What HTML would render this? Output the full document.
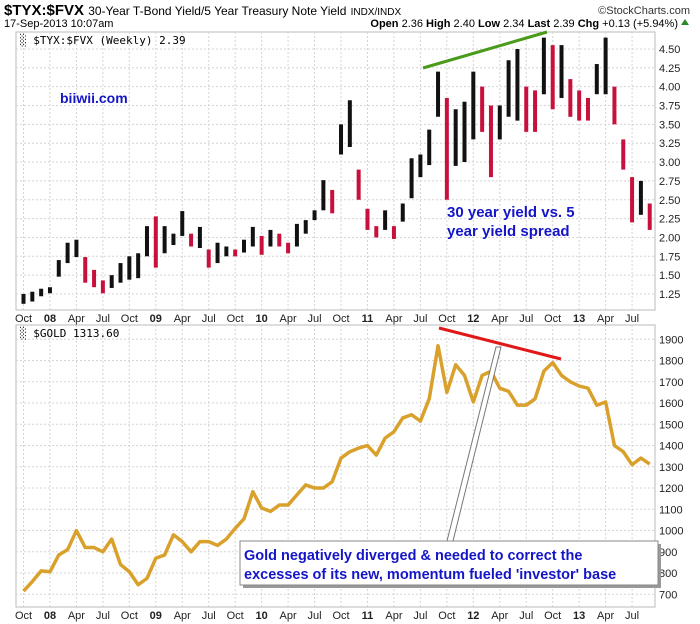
<!DOCTYPE html>
<html><head><meta charset="utf-8"><style>
body{margin:0;background:#fff;width:700px;height:624px;overflow:hidden;font-family:"Liberation Sans",sans-serif}
svg{display:block}
</style></head><body>
<svg id="c" width="700" height="624" xmlns="http://www.w3.org/2000/svg" font-family="Liberation Sans, sans-serif">
<text x="4" y="15" font-size="15" font-weight="bold">$TYX:$FVX <tspan font-size="12" font-weight="normal">30-Year T-Bond Yield/5 Year Treasury Note Yield</tspan> <tspan font-size="10" font-weight="normal">INDX/INDX</tspan></text>
<text x="690" y="14" font-size="11" text-anchor="end" fill="#333">©StockCharts.com</text>
<text x="4" y="27" font-size="11">17-Sep-2013 10:07am</text>
<text x="678" y="27" font-size="11" text-anchor="end"><tspan font-weight="bold">Open</tspan> 2.36 <tspan font-weight="bold">High</tspan> 2.40 <tspan font-weight="bold">Low</tspan> 2.34 <tspan font-weight="bold">Last</tspan> 2.39 <tspan font-weight="bold">Chg</tspan> +0.13 (+5.94%)</text>
<path d="M681 25 l4 -6 l4 6z" fill="#2a8a2a"/>
<g id="g1"></g>
<g id="g2"></g>
</svg>
<script>
const months=["Oct","08","Apr","Jul","Oct","09","Apr","Jul","Oct","10","Apr","Jul","Oct","11","Apr","Jul","Oct","12","Apr","Jul","Oct","13","Apr","Jul"];
const spreadTicks=[1.25,1.5,1.75,2,2.25,2.5,2.75,3,3.25,3.5,3.75,4,4.25,4.5];
const goldTicks=[700,800,900,1000,1100,1200,1300,1400,1500,1600,1700,1800,1900];
const spreadHigh=[1.25,1.28,1.32,1.34,1.70,1.93,1.97,1.74,1.57,1.43,1.50,1.66,1.75,1.79,2.15,2.28,2.15,2.05,2.35,2.05,2.14,1.84,1.93,1.88,1.84,1.97,2.14,2.02,2.10,2.05,1.93,2.18,2.23,2.36,2.76,2.63,3.50,3.82,2.90,2.38,2.15,2.36,2.15,2.45,3.05,3.10,3.43,4.20,3.85,3.70,3.80,4.20,4.00,3.75,3.75,4.35,4.50,4.00,3.95,4.65,4.55,4.55,4.10,3.95,3.85,4.30,4.65,4.00,3.30,2.80,2.75,2.45];
const spreadLow=[1.12,1.15,1.22,1.26,1.48,1.66,1.74,1.40,1.34,1.26,1.33,1.40,1.44,1.46,1.75,1.60,1.79,1.90,2.02,1.88,1.86,1.60,1.66,1.75,1.75,1.80,1.88,1.77,1.88,1.88,1.79,1.88,2.05,2.23,2.36,2.32,3.10,3.20,2.50,2.10,2.00,2.10,1.98,2.21,2.52,2.80,2.96,3.60,2.50,2.95,3.00,3.30,3.40,2.80,3.30,3.60,3.55,3.40,3.40,3.90,3.70,3.85,3.60,3.55,3.55,3.90,3.90,3.50,2.90,2.20,2.30,2.10];
const goldClose=[715,760,810,806,885,910,1000,920,920,900,960,840,806,745,775,870,885,980,948,900,948,948,930,960,1010,1055,1183,1106,1090,1120,1120,1168,1215,1200,1200,1230,1341,1371,1388,1400,1355,1435,1465,1530,1545,1515,1620,1870,1650,1780,1730,1605,1730,1750,1670,1655,1590,1590,1620,1750,1790,1730,1700,1680,1670,1590,1605,1400,1371,1310,1341,1313];
const NS="http://www.w3.org/2000/svg";
function mk(p,t,a){const e=document.createElementNS(NS,t);for(const k in a)e.setAttribute(k,a[k]);p.appendChild(e);return e;}
const X0=16,X1=655;
function xm(m){return 23.5+m*8.82;}
function y1(v){return 294-(v-1.25)*75.4;}
function y2(v){return 594.3-(v-700)*0.2125;}
const g1=document.getElementById('g1'),g2=document.getElementById('g2');
function panel(g,top,bot,ticks,yf,fmt,name){
  const r=mk(g,'rect',{x:X0,y:top,width:X1-X0,height:bot-top,fill:'#fff',stroke:'#bbb'});
  
  
  ticks.forEach(t=>{const y=yf(t);
    const l=mk(g,'line',{x1:X0,x2:X1,y1:y,y2:y,stroke:'#d4d4d4','stroke-dasharray':'2,2'});
    
    
    const tx=mk(g,'text',{x:659,y:y+4,'font-size':11,fill:'#222'});tx.textContent=fmt(t);
    
    });
  months.forEach((m,i)=>{const x=xm(i*3);
    const l=mk(g,'line',{x1:x,x2:x,y1:top,y2:bot,stroke:'#d4d4d4','stroke-dasharray':'2,2'});
    
    
    const tx=mk(g,'text',{x:x,y:bot+12,'font-size':11,'text-anchor':'middle','font-weight':/^\d/.test(m)?'bold':'normal',fill:'#222'});tx.textContent=m;
    
    });
}
panel(g1,32,310,spreadTicks,y1,v=>v.toFixed(2),'spread');
panel(g2,325,607,goldTicks,y2,v=>String(v),'gold');
spreadHigh.forEach((h,i)=>{const lo=spreadLow[i];const mid=(h+lo)/2;const pm=i?(spreadHigh[i-1]+spreadLow[i-1])/2:mid;
  const b=mk(g1,'line',{x1:xm(i),x2:xm(i),y1:y1(h),y2:y1(lo),stroke:mid<pm?'#c8103c':'#111','stroke-width':4});
  
  });
const pts=goldClose.map((v,i)=>xm(i)+','+y2(v)).join(' ');
const gl=mk(g2,'polyline',{points:pts,fill:'none',stroke:'#d9a12b','stroke-width':3.5,'stroke-linejoin':'round'});


function txt(g,x,y,s,attrs,name){const t=mk(g,'text',Object.assign({x:x,y:y},attrs));t.textContent=s;return t;}
txt(g1,20,44,'\u2591 $TYX:$FVX (Weekly) 2.39',{'font-size':11,'font-family':'DejaVu Sans Mono, monospace'},'spread-legend');
txt(g2,20,337,'\u2591 $GOLD 1313.60',{'font-size':11,'font-family':'DejaVu Sans Mono, monospace'},'gold-legend');
txt(g1,60,103,'biiwii.com',{'font-size':14,'font-weight':'bold',fill:'#1515c8'},'biiwii-watermark');
txt(g1,447,217,'30 year yield vs. 5',{'font-size':15,'font-weight':'bold',fill:'#1515c8'},'spread-note-line1');
txt(g1,447,236,'year yield spread',{'font-size':15,'font-weight':'bold',fill:'#1515c8'},'spread-note-line2');
const gr=mk(g1,'line',{x1:423,y1:68,x2:547,y2:32,stroke:'#4a9a1c','stroke-width':3});


const rd=mk(g2,'line',{x1:439,y1:328,x2:561,y2:359,stroke:'#e01818','stroke-width':3});


const cl=mk(g2,'path',{d:'M447 541 L496 347 L501 347 L453 541',fill:'#fff',stroke:'#777','stroke-width':1});


mk(g2,'rect',{x:243,y:544,width:418,height:44,fill:'#999'});
const bx=mk(g2,'rect',{x:240,y:541,width:418,height:44,fill:'#fff',stroke:'#888'});


txt(g2,244,560,'Gold negatively diverged & needed to correct the',{'font-size':14.5,'font-weight':'bold',fill:'#1515c8'},'callout-line1');
txt(g2,244,579,'excesses of its new, momentum fueled \'investor\' base',{'font-size':14.5,'font-weight':'bold',fill:'#1515c8'},'callout-line2');
</script>
</body></html>
